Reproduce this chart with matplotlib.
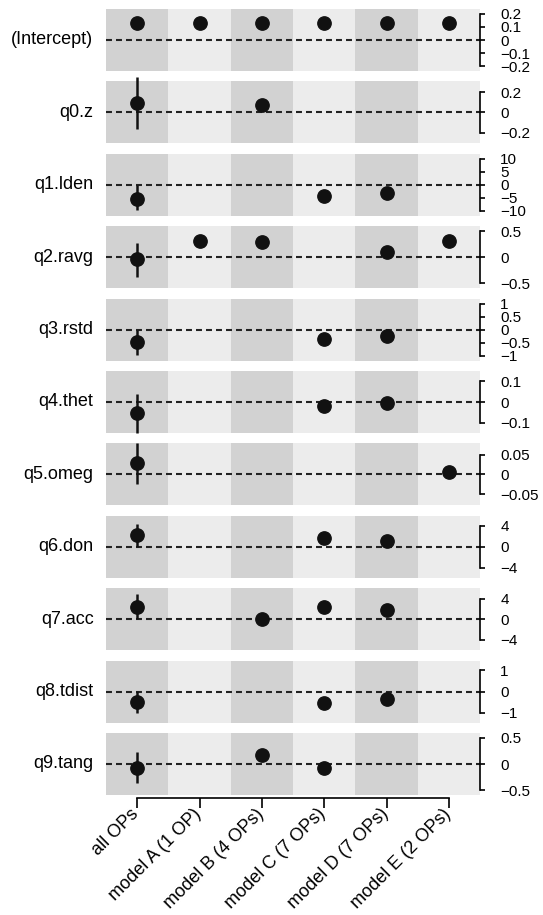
import numpy as np
import matplotlib
matplotlib.use('Agg')
import matplotlib.pyplot as plt
import matplotlib.transforms as mtransforms

plt.rcParams['font.family'] = ['Liberation Sans', 'DejaVu Sans']
plt.rcParams['lines.scale_dashes'] = False

nan = np.nan

models = ['all OPs', 'model A (1 OP)', 'model B (4 OPs)', 'model C (7 OPs)',
          'model D (7 OPs)', 'model E (2 OPs)']
terms = ['(Intercept)', 'q0.z', 'q1.lden', 'q2.ravg', 'q3.rstd', 'q4.thet',
         'q5.omeg', 'q6.don', 'q7.acc', 'q8.tdist', 'q9.tang']

# coefficient estimates per term, one value per model (nan = not in model)
est_intercept = [0.133, 0.133, 0.133, 0.133, 0.133, 0.133]
est_q0 = [0.089, nan, 0.069, nan, nan, nan]
est_q1 = [-5.4, nan, nan, -4.2, -3.1, nan]
est_q2 = [-0.04, 0.31, 0.29, nan, 0.10, 0.31]
est_q3 = [-0.46, nan, nan, -0.35, -0.23, nan]
est_q4 = [-0.053, nan, nan, -0.021, -0.005, nan]
est_q5 = [0.028, nan, nan, nan, nan, 0.006]
est_q6 = [2.2, nan, nan, 1.7, 1.1, nan]
est_q7 = [2.3, nan, 0.0, 2.3, 1.7, nan]
est_q8 = [-0.51, nan, nan, -0.56, -0.37, nan]
est_q9 = [-0.07, nan, 0.17, -0.083, nan, nan]
estimates = [est_intercept, est_q0, est_q1, est_q2, est_q3, est_q4,
             est_q5, est_q6, est_q7, est_q8, est_q9]

# interval for the "all OPs" fit (low, high)
ci_low = [nan, -0.167, -9.6, -0.39, -0.96, -0.149, -0.024, 0.0, 0.0, -1.02, -0.37]
ci_high = [nan, 0.345, 0.0, 0.27, 0.0, 0.04, 0.079, 4.4, 4.8, 0.05, 0.23]

# y ranges and axis ticks per panel
ylims = [0.236, 0.306, 12, 0.6, 1.19, 0.15, 0.078, 5.9, 6.0, 1.46, 0.59]
yticks = [[-0.2, -0.1, 0, 0.1, 0.2], [-0.2, 0, 0.2], [-10, -5, 0, 5, 10],
          [-0.5, 0, 0.5], [-1, -0.5, 0, 0.5, 1], [-0.1, 0, 0.1],
          [-0.05, 0, 0.05], [-4, 0, 4], [-4, 0, 4], [-1, 0, 1], [-0.5, 0, 0.5]]

dark = '#d2d2d2'
light = '#ececec'

W, H = 543, 915
fig = plt.figure(figsize=(W / 100, H / 100), dpi=100)

x = np.arange(len(models))
left, width = 106, 374
top0, pitch, ph = 9, 72.4, 62

axes = []
for i, term in enumerate(terms):
    top = top0 + pitch * i
    ax = fig.add_axes([left / W, 1 - (top + ph) / H, width / W, ph / H])
    axes.append(ax)
    ax.set_xlim(-0.5, 5.5)
    ax.set_ylim(-ylims[i], ylims[i])
    for j in range(len(models)):
        ax.axvspan(j - 0.5, j + 0.5, color=dark if j % 2 == 0 else light,
                   lw=0, zorder=0)
    ax.axhline(0, color='#222222', lw=1.5, dashes=(4.3, 2.9), zorder=1)
    if not np.isnan(ci_low[i]):
        ax.plot([x[0], x[0]], [ci_low[i], ci_high[i]], color='#111111',
                lw=1.8, zorder=2, clip_on=False, solid_capstyle='butt')
    ax.plot(x, estimates[i], 'o', color='#111111', ms=9.6, zorder=3,
            clip_on=False)

    for s in ['top', 'left', 'bottom']:
        ax.spines[s].set_visible(False)
    ax.spines['right'].set_bounds(yticks[i][0], yticks[i][-1])
    ax.spines['right'].set_linewidth(1.2)
    ax.yaxis.tick_right()
    ax.set_yticks(yticks[i])
    ax.set_yticklabels([f'{v:g}'.replace('-', '\u2212') for v in yticks[i]])
    ax.tick_params(axis='y', direction='out', length=3.6, width=1.2,
                   pad=11, labelsize=11)
    ax.annotate(term, xy=(0, 0), xycoords=('axes fraction', 'data'),
                xytext=(-9, 0), textcoords='offset points',
                ha='right', va='center', fontsize=13)
    if i < len(terms) - 1:
        ax.set_xticks([])

ax = axes[-1]
ax.spines['bottom'].set_visible(True)
ax.spines['bottom'].set_position(('outward', 2))
ax.spines['bottom'].set_bounds(0, 5)
ax.spines['bottom'].set_linewidth(1.2)
ax.set_xticks(x)
ax.set_xticklabels(models, rotation=45, ha='right', va='center',
                   rotation_mode='anchor', fontsize=13)
ax.tick_params(axis='x', direction='out', length=7.2, width=1.2, pad=2.5)
shift = mtransforms.ScaledTranslation(-1 / 100, 0, fig.dpi_scale_trans)
for lab in ax.get_xticklabels():
    lab.set_transform(lab.get_transform() + shift)

fig.savefig('out.png', dpi=100)
